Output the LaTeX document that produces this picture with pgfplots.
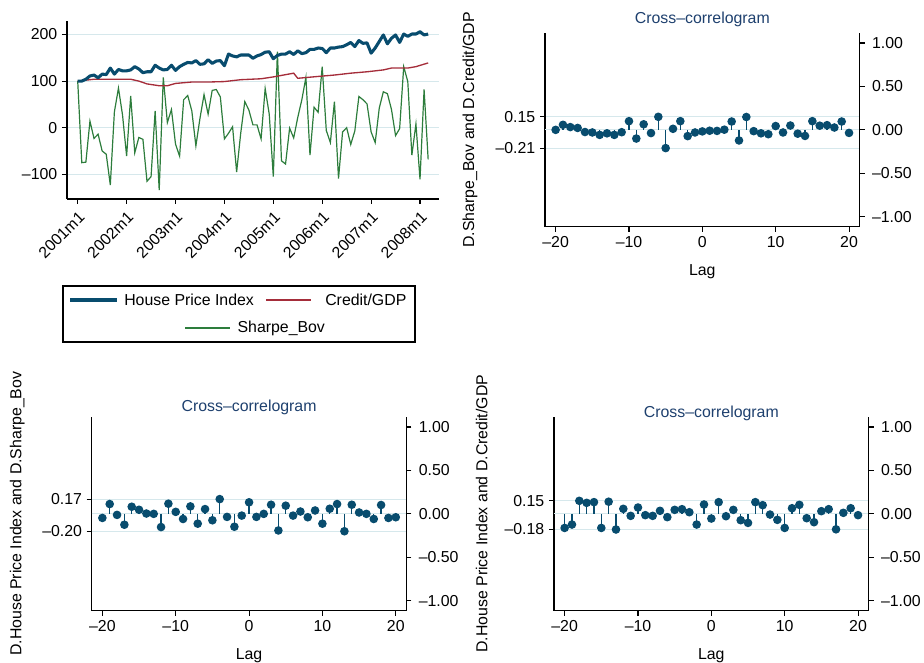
\documentclass[border=0pt]{standalone}
\usepackage{fontspec}
\setmainfont{Liberation Sans}
\usepackage{pgfplots}
\usepackage{pgfplotstable}
\pgfplotsset{compat=1.18}
\definecolor{hpi}{RGB}{8,76,110}
\definecolor{cred}{RGB}{165,45,58}
\definecolor{sharpe}{RGB}{45,125,60}
\definecolor{gridc}{RGB}{214,232,236}
\definecolor{ttl}{RGB}{30,64,110}
\newcommand{\fs}{\fontsize{11.9}{14}\selectfont}

\pgfplotstableread{
m hpi sh
0 100 100
1 100 -75
2 104 -74
3 111 14
4 113 -23
5 107 -14
6 115 -50
7 114 -57
8 128 -123
9 115 34
10 125 85
11 122 27
12 122 -61
13 124 68
14 131 -54
15 126 -21
16 118 -25
17 120 -115
18 120 -105
19 134 36
20 128 -134
21 124 108
22 125 11
23 134 39
24 123 -35
25 131 -61
26 136 60
27 140 69
28 139 36
29 144 -39
30 136 20
31 137 71
32 146 29
33 138 80
34 143 82
35 144 66
36 133 -24
37 158 -12
38 154 2
39 152 -95
40 156 -12
41 156 56
42 156 38
43 149 6
44 154 6
45 157 -24
46 162 84
47 163 29
48 148 -105
49 155 163
50 158 -71
51 158 -78
52 163 -1
53 157 -22
54 165 22
55 159 60
56 161 108
57 168 -59
58 168 44
59 171 33
60 170 131
61 161 -6
62 171 -32
63 171 56
64 173 -109
65 174 -9
66 178 0
67 183 -36
68 174 -7
69 187 67
70 181 60
71 182 51
72 160 -9
73 171 -32
74 185 42
75 199 77
76 180 73
77 192 39
78 199 -17
79 183 -2
80 201 131
81 196 99
82 201 -59
83 201 8
84 206 -111
85 199 82
86 201 -68
}\tsdata

\pgfplotstableread{
m cr
0 100
4 104
13 104
15 100
17 94
20 90
22 90
24 95
28 98
32 98
36 99
40 103
45 105
48 109
53 117
54 106
59 110
63 113
67 117
71 120
75 124
77 128
81 128
83 131
86 139
}\crdata

\pgfplotstableread{
lag r
-20 0.000
-19 0.058
-18 0.032
-17 0.022
-16 -0.025
-15 -0.030
-14 -0.058
-13 -0.040
-12 -0.058
-11 -0.027
-10 0.100
-9 -0.100
-8 0.064
-7 -0.037
-6 0.150
-5 -0.210
-4 0.012
-3 0.100
-2 -0.072
-1 -0.030
0 -0.018
1 -0.010
2 -0.012
3 0.002
4 0.096
5 -0.122
6 0.148
7 -0.015
8 -0.040
9 -0.050
10 0.044
11 -0.030
12 0.050
13 -0.044
14 -0.070
15 0.100
16 0.048
17 0.054
18 0.027
19 0.096
20 -0.035
}\trdata

\pgfplotstableread{
lag r
-20 -0.047
-19 0.113
-18 -0.012
-17 -0.125
-16 0.082
-15 0.047
-14 0.004
-13 0.000
-12 -0.152
-11 0.117
-10 0.023
-9 -0.059
-8 0.086
-7 -0.113
-6 0.055
-5 -0.074
-4 0.170
-3 -0.035
-2 -0.148
-1 -0.020
0 0.133
1 -0.035
2 0.000
3 0.105
4 -0.191
5 0.094
6 -0.020
7 0.027
8 -0.039
9 0.039
10 -0.113
11 0.059
12 0.113
13 -0.200
14 0.105
15 0.016
16 0.000
17 -0.059
18 0.102
19 -0.047
20 -0.039
}\bldata

\pgfplotstableread{
lag r
-20 -0.162
-19 -0.123
-18 0.150
-17 0.127
-16 0.135
-15 -0.162
-14 0.140
-13 -0.180
-12 0.058
-11 -0.023
-10 0.073
-9 -0.015
-8 -0.023
-7 0.035
-6 -0.038
-5 0.046
-4 0.054
-3 0.019
-2 -0.123
-1 0.108
0 -0.054
1 0.135
2 -0.027
3 0.046
4 -0.073
5 -0.104
6 0.135
7 0.100
8 -0.008
9 -0.069
10 -0.162
11 0.065
12 0.104
13 -0.050
14 -0.096
15 0.031
16 0.054
17 -0.178
18 0.012
19 0.065
20 -0.015
}\brdata

\pgfplotsset{
  common/.style={
    scale only axis, anchor=south west,
    axis x line*=bottom, axis y line*=left,
    x axis line style={-}, y axis line style={-},
    axis line style={line width=0.8pt, black},
    tick align=outside, major tick length=3.75pt,
    tick style={line width=0.8pt, black},
    tick label style={font=\fs},
    label style={font=\fs},
    ymajorgrids, grid style={gridc, line width=0.8pt},
  },
  cc/.style={common,
    width=236pt, height=145.5pt,
    xmin=-21.45, xmax=21.45, ymin=-1.115, ymax=1.118,
    xtick={-20,-10,0,10,20}, xticklabels={–20,–10,0,10,20},
    xlabel={Lag},
    xlabel style={at={(axis description cs:0.5,0)}, anchor=center, yshift=-33.9pt},
    extra y ticks={0}, extra y tick labels={},
    extra y tick style={major tick length=0pt, grid=major},
    title={Cross–correlogram},
    title style={font=\fs, color=ttl, at={(axis description cs:0.5,1)}, anchor=center},
  },
  rr/.style={scale only axis, anchor=south west,
    width=236pt, height=145.5pt,
    xmin=-21.45, xmax=21.45, ymin=-1.115, ymax=1.118,
    axis x line=none, axis y line*=right,
    y axis line style={-}, axis line style={line width=0.8pt, black},
    tick align=outside, major tick length=3.75pt,
    tick style={line width=0.8pt, black},
    tick label style={font=\fs},
    yticklabel style={xshift=2pt},
    ytick={-1,-0.5,0,0.5,1},
    yticklabels={–1.00,–0.50,0.00,0.50,1.00},
  },
  stem/.style={hpi, line width=0.9pt, ycomb, mark=*,
    mark options={fill=hpi, draw=hpi, solid}, mark size=2.75pt},
}

\begin{document}
\begin{tikzpicture}[x=1pt,y=1pt]
% ---------------- time series ----------------
\begin{axis}[common,
  at={(50.25pt,348pt)}, width=279pt, height=133.5pt,
  xmin=-2.63, xmax=88.66, ymin=-153, ymax=229,
  xtick={0,12,24,36,48,60,72,84},
  xticklabels={2001m1,2002m1,2003m1,2004m1,2005m1,2006m1,2007m1,2008m1},
  xticklabel style={rotate=45, anchor=north east},
  ytick={-100,0,100,200}, yticklabels={–100,0,100,200},
]
\addplot[sharpe, line width=0.9pt] table[x=m,y=sh] {\tsdata};
\addplot[cred, line width=1pt] table[x=m,y=cr] {\crdata};
\addplot[hpi, line width=2.3pt, line join=round] table[x=m,y=hpi] {\tsdata};
\end{axis}

% legend
\draw[black, line width=0.8pt] (47.25pt,240.75pt) rectangle (311.25pt,282.75pt);
\draw[hpi, line width=2.3pt] (52.5pt,272.25pt) -- (87.75pt,272.25pt);
\node[anchor=west, font=\fs, inner sep=0pt] at (93pt,272.25pt) {House Price Index};
\draw[cred, line width=1pt] (199.5pt,272.25pt) -- (233.25pt,272.25pt);
\node[anchor=west, font=\fs, inner sep=0pt] at (243.75pt,272.25pt) {Credit/GDP};
\draw[sharpe, line width=0.9pt] (138.75pt,251.25pt) -- (172.5pt,251.25pt);
\node[anchor=west, font=\fs, inner sep=0pt] at (178pt,251.25pt) {Sharpe\_Bov};

% ---------------- top right ----------------
\begin{axis}[cc, at={(408.75pt,327.2pt)},
  ytick={-0.21,0.15}, yticklabels={–0.21,0.15},
  ylabel={D.Sharpe\_Bov and D.Credit/GDP},
  ylabel style={at={(axis description cs:-0.238,0.5)}, anchor=center},
  title style={yshift=4pt},
]
\addplot[stem] table[x=lag,y=r] {\trdata};
\end{axis}
\begin{axis}[rr, at={(408.75pt,327.2pt)}]
\addplot[draw=none] coordinates {(0,0)};
\end{axis}

% ---------------- bottom left ----------------
\begin{axis}[cc, at={(68.8pt,39.2pt)},
  ytick={-0.20,0.17}, yticklabels={–0.20,0.17},
  ylabel={D.House Price Index and D.Sharpe\_Bov},
  ylabel style={at={(axis description cs:-0.237,0.5)}, anchor=center},
  title style={yshift=0.75pt},
]
\addplot[stem] table[x=lag,y=r] {\bldata};
\end{axis}
\begin{axis}[rr, at={(68.8pt,39.2pt)}]
\addplot[draw=none] coordinates {(0,0)};
\end{axis}

% ---------------- bottom right ----------------
\begin{axis}[cc, at={(415.5pt,39.2pt)},
  ytick={-0.18,0.15}, yticklabels={–0.18,0.15},
  ylabel={D.House Price Index and D.Credit/GDP},
  ylabel style={at={(axis description cs:-0.23,0.5)}, anchor=center},
  title style={yshift=-3.5pt},
]
\addplot[stem] table[x=lag,y=r] {\brdata};
\end{axis}
\begin{axis}[rr, at={(415.5pt,39.2pt)}]
\addplot[draw=none] coordinates {(0,0)};
\end{axis}

\pgfresetboundingbox
\path (0pt,0pt) rectangle (693pt,497.25pt);
\end{tikzpicture}
\end{document}
